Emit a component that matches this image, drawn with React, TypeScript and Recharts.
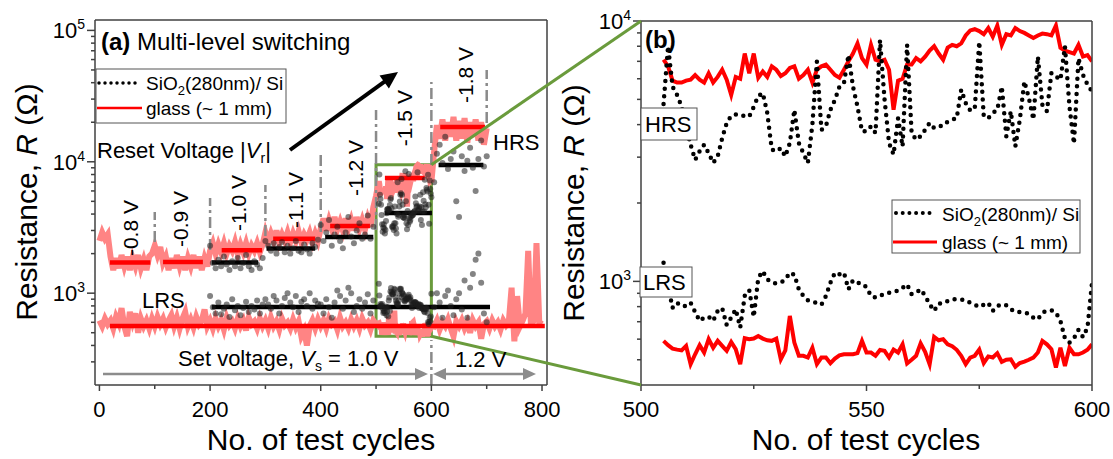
import React from 'react';
import {
  ComposedChart,
  Line,
  Scatter,
  XAxis,
  YAxis,
  ReferenceLine,
  ReferenceArea,
} from 'recharts';

const FONT = '"Liberation Sans", Arial, Helvetica, sans-serif';
const AXIS = '#404040';
const GREEN = '#6a9b3c';
const BAND = '#ff8484';
const RED = '#ff0000';
const DOT = 'rgba(30,30,30,0.55)';
const DIVIDER = '#8a8a8a';

// ---------------- data ----------------
// Detailed window, one value per cycle, cycles 505..600 (Ω)
const glassHrsZoom = [
  7100, 6700, 5900, 5800, 5800, 5900, 5950, 6200, 5950, 5800,
  6300, 5800, 6100, 6500, 5950, 5200, 6100, 6000, 7500, 6300,
  7500, 6050, 6400, 6100, 6700, 6500, 6150, 6300, 6600, 6700,
  6000, 6200, 6500, 5800, 6500, 6700, 6800, 6500, 6200, 6050,
  6500, 7000, 7500, 8200, 7200, 6800, 8100, 7100, 7000, 7100,
  6500, 4560, 5900, 6000, 6800, 6800, 7200, 7000, 7300, 7700,
  8000, 7500, 7100, 7900, 8100, 8000, 8200, 8800, 9200, 9300,
  9150, 8900, 9400, 8700, 9600, 8100, 8900, 8800, 9400, 9150,
  9000, 8800, 8600, 8800, 8950, 8900, 8800, 9600, 7900, 7700,
  7600, 7500, 8100, 7300, 7400, 7000,
];
const sio2HrsZoom = [
  4800, 8000, 5600, 5200, 4700, 3940, 3350, 2930, 3160, 3350,
  3110, 2850, 3020, 3550, 4060, 4330, 4370, 4370, 4300, 4300,
  4680, 5160, 5290, 4430, 3210, 3160, 3250, 3020, 3400, 4560,
  3400, 3110, 2850, 4000, 6990, 3820, 3940, 4560, 4980, 5600,
  5770, 7410, 5600, 4700, 3770, 3770, 3940, 3720, 8460, 5000,
  3400, 3070, 4230, 3300, 8090, 3720, 3500, 3610, 3820, 4060,
  3880, 3940, 3960, 4110, 4180, 4230, 5450, 4840, 4530, 4600,
  8330, 4300, 4230, 4430, 4560, 5600, 3610, 4500, 3300, 4180,
  5860, 5060, 4180, 7300, 4760, 4500, 6310, 6120, 5940, 7980,
  4700, 3380, 7190, 6210, 5700, 5360,
];
const sio2LrsZoom = [
  1180, 960, 792, 828, 804, 804, 828, 763, 705, 726,
  732, 705, 770, 790, 680, 726, 781, 665, 880, 925,
  730, 1030, 1095, 1018, 988, 983, 990, 1015, 1080, 1060,
  932, 880, 846, 835, 826, 814, 878, 988, 1080, 1065,
  1080, 932, 1010, 988, 983, 950, 880, 866, 880, 898,
  905, 909, 923, 945, 974, 893, 905, 932, 880, 816,
  770, 823, 823, 840, 853, 853, 851, 848, 828, 814,
  798, 814, 828, 770, 804, 816, 809, 781, 763, 763,
  759, 752, 726, 715, 759, 770, 775, 759, 705, 604,
  582, 604, 651, 611, 665, 988,
];
const glassLrsZoom = [
  591, 569, 552, 547, 543, 565, 481, 525, 569, 533,
  600, 556, 591, 565, 541, 585, 549, 481, 605, 600,
  603, 617, 603, 594, 591, 603, 502, 543, 737, 582,
  518, 518, 510, 556, 481, 510, 510, 485, 505, 520,
  525, 525, 525, 530, 591, 533, 533, 518, 545, 541,
  510, 547, 533, 573, 484, 500, 518, 578, 536, 480,
  612, 594, 600, 573, 564, 546, 518, 481, 510, 518,
  547, 486, 515, 510, 530, 491, 500, 502, 470, 486,
  492, 500, 510, 533, 591, 573, 549, 467, 556, 473,
  556, 525, 525, 533, 546, 573,
];

// Full run, sampled every 5 cycles
// glass HRS, cycles 0..500
const glassHrsEarly = [
  2500, 2900, 2600, 2800, 1900, 1500, 1850, 1550, 1950, 1600,
  1900, 1500, 1850, 1600, 1950, 1550, 1800, 1500, 1900, 2000,
  2300, 1950, 2250, 1700, 1900, 1500, 1850, 1550, 1950, 1600,
  1900, 1500, 1850, 1600, 1950, 1550, 1900, 1500, 1850, 1600,
  2100, 2400, 2000, 2350, 2050, 2400, 2000, 2300, 2100, 2450,
  2000, 2350, 2050, 2400, 2000, 2300, 2100, 2400, 2050, 2350,
  2900, 2450, 2850, 2500, 3000, 2450, 2800, 2500, 2900, 2450,
  2850, 2500, 2950, 2450, 2800, 2550, 2900, 2450, 2850, 2500,
  3100, 3700, 3000, 3600, 3100, 3800, 3050, 3500, 3000, 3700,
  3100, 3600, 3000, 3800, 3100, 3600, 3050, 3700, 3200, 4500,
  5500,
];
// glass HRS, cycles 605..700
const glassHrsLate = [
  12000, 19000, 15000, 21000, 14500, 20000, 15500, 22000, 14500, 20500,
  15000, 21500, 14000, 20000, 15500, 21000, 14500, 20000, 13500, 18000,
];
// glass LRS, cycles 0..500
const glassLrsEarly = [
  620, 560, 640, 580, 620, 540, 660, 590, 770, 560,
  470, 720, 600, 700, 500, 640, 560, 620, 540, 640,
  560, 660, 580, 640, 550, 620, 680, 560, 650, 540,
  640, 720, 560, 630, 550, 660, 580, 620, 750, 560,
  620, 540, 640, 560, 620, 530, 650, 570, 610, 540,
  640, 560, 620, 520, 650, 580, 610, 540, 640, 560,
  620, 540, 650, 560, 610, 530, 640, 570, 600, 540,
  630, 550, 610, 470, 520, 400, 560, 620, 540, 630,
  560, 620, 540, 640, 580, 610, 530, 650, 560, 600,
  540, 630, 560, 620, 540, 640, 570, 600, 530, 620,
  580,
];
// glass LRS, cycles 605..800
const glassLrsLate = [
  560, 620, 530, 600, 560, 630, 540, 470, 610, 560,
  620, 540, 600, 500, 620, 560, 600, 450, 580, 610,
  540, 620, 560, 600, 530, 620, 570, 610, 1100, 430,
  950, 560, 620, 700, 2100, 560, 620, 2400, 600, 580,
];
// SiO2 HRS, cycles 200..495 and 605..700
const sio2HrsEarly = [
  2300, 1700, 1550, 1800, 1600, 1900, 1650, 1500, 1750, 1600,
  1850, 1550, 1700, 1950, 1600, 1500, 1750, 1650, 1550, 1850,
  2500, 2300, 2100, 2400, 2000, 2250, 2450, 2050, 2300, 2000,
  2200, 2500, 2100, 2050, 2350, 2150, 2000, 2400, 2250, 2550,
  3300, 2500, 2900, 3600, 2300, 2800, 3200, 2500, 2200, 2900,
  3800, 2700, 2400, 3000, 3400, 2600, 2800, 3900, 2600, 3200,
];
const sio2HrsLate = [
  7000, 11500, 13500, 9800, 15500, 8800, 10500, 12000, 5000, 3800,
  11000, 8500, 10200, 12800, 9000, 6000, 10500, 14500, 9200, 11000,
];
// SiO2 LRS, cycles 200..495 and 605..700
const sio2LrsEarly = [
  950, 780, 700, 850, 690, 760, 820, 660, 900, 740,
  800, 680, 770, 860, 720, 800, 750, 880, 700, 820,
  900, 820, 760, 950, 880, 700, 800, 920, 1000, 850,
  780, 950, 720, 860, 900, 800, 1000, 760, 880, 830,
  820, 700, 900, 780, 650, 850, 1050, 950, 760, 880,
  1100, 1000, 720, 800, 900, 760, 850, 980, 700, 880,
];
const sio2LrsLate = [
  780, 1000, 850, 650, 950, 1050, 800, 680, 900, 1000,
  750, 1250, 650, 1100, 1400, 1800, 2000, 1200, 700, 600,
];

// Mean resistance of each reset-voltage block
const glassHrsLevels = [
  { from: 19, to: 92, r: 1710 },
  { from: 115, to: 187, r: 1730 },
  { from: 221, to: 294, r: 2120 },
  { from: 314, to: 390, r: 2600 },
  { from: 417, to: 489, r: 3250 },
  { from: 516, to: 588, r: 7530 },
  { from: 616, to: 697, r: 18400 },
];
const sio2HrsLevels = [
  { from: 203, to: 287, r: 1710 },
  { from: 302, to: 390, r: 2190 },
  { from: 408, to: 495, r: 2680 },
  { from: 516, to: 601, r: 4080 },
  { from: 613, to: 694, r: 9460 },
];
const glassLrsLevel = { from: 19, to: 805, r: 563 };
const sio2LrsLevel = { from: 203, to: 706, r: 786 };

// Block boundaries (cycle, lower and upper end of the marker)
const blockDividers = [
  { x: 100, lo: 2450, hi: 4150 },
  { x: 200, lo: 2130, hi: 5300 },
  { x: 300, lo: 2720, hi: 6670 },
  { x: 400, lo: 2920, hi: 11300 },
  { x: 500, lo: 3030, hi: 24800 },
  { x: 600, lo: 9460, hi: 40400 },
  { x: 700, lo: 19700, hi: 50000 },
  { x: 600, lo: 200, hi: 440 },
];

const resetVoltageLabels = [
  { x: 57, y: 3130, label: '-0.8 V' },
  { x: 147, y: 3670, label: '-0.9 V' },
  { x: 252, y: 4850, label: '-1.0 V' },
  { x: 354, y: 5120, label: '-1.1 V' },
  { x: 462, y: 8970, label: '-1.2 V' },
  { x: 551, y: 21500, label: '-1.5 V' },
  { x: 661, y: 45800, label: '-1.8 V' },
];

const zoomWindow = { x1: 500, x2: 600, y1: 470, y2: 9500 };

const leftXTicks = [0, 100, 200, 300, 400, 500, 600, 700, 800];
const leftXMajor = [0, 200, 400, 600, 800];
const leftYTicks = [
  300, 400, 500, 600, 700, 800, 900,
  1000, 2000, 3000, 4000, 5000, 6000, 7000, 8000, 9000,
  10000, 20000, 30000, 40000, 50000, 60000, 70000, 80000, 90000,
  100000,
];
const rightXTicks = [500, 525, 550, 575, 600];
const rightXMajor = [500, 550, 600];
const rightYTicks = [
  500, 600, 700, 800, 900,
  1000, 2000, 3000, 4000, 5000, 6000, 7000, 8000, 9000,
  10000,
];

// ---------------- helpers ----------------
const pts = (start: number, step: number, vals: number[]) =>
  vals.map((y, i) => ({ x: start + i * step, y }));

const glassHrsLeft = [...pts(0, 5, glassHrsEarly), ...pts(505, 1, glassHrsZoom), ...pts(605, 5, glassHrsLate)];
const glassLrsLeft = [...pts(0, 5, glassLrsEarly), ...pts(505, 1, glassLrsZoom), ...pts(605, 5, glassLrsLate)];
const sio2HrsLeft = [...pts(200, 5, sio2HrsEarly), ...pts(505, 1, sio2HrsZoom), ...pts(605, 5, sio2HrsLate)];
const sio2LrsLeft = [...pts(200, 5, sio2LrsEarly), ...pts(505, 1, sio2LrsZoom), ...pts(605, 5, sio2LrsLate)];

const glassHrsRight = pts(505, 1, glassHrsZoom);
const glassLrsRight = pts(505, 1, glassLrsZoom);
const sio2HrsRight = pts(505, 1, sio2HrsZoom);
const sio2LrsRight = pts(505, 1, sio2LrsZoom);

// Layout of the left plot area (must agree with the chart margins below)
const LEFT = { x0: 95, x1: 547, y0: 20, y1: 385, dMin: -8, dMax: 809, rMin: 200, rMax: 120000 };
const RIGHT_PLOT = { x0: 641, y0: 21, y1: 385 };
const lx = (v: number) => LEFT.x0 + ((v - LEFT.dMin) / (LEFT.dMax - LEFT.dMin)) * (LEFT.x1 - LEFT.x0);
const ly = (v: number) =>
  LEFT.y0 +
  ((Math.log10(LEFT.rMax) - Math.log10(v)) / (Math.log10(LEFT.rMax) - Math.log10(LEFT.rMin))) *
    (LEFT.y1 - LEFT.y0);

const axisStyle = { stroke: AXIS, strokeWidth: 1.5 };

const YLogTick = (props: any) => {
  const { x, y, payload } = props;
  const v = payload.value as number;
  const lg = Math.log10(v);
  const e = Math.round(lg);
  const major = Math.abs(lg - e) < 1e-9;
  return (
    <g>
      <line x1={x} x2={x - (major ? 8 : 4)} y1={y} y2={y} stroke={AXIS} strokeWidth={1.5} />
      {major && (
        <text x={x - 10} y={y + 8} textAnchor="end" fontFamily={FONT} fontSize={22} fill="#000">
          10<tspan dy={-9} fontSize={14}>{e}</tspan>
        </text>
      )}
    </g>
  );
};

const makeXTick = (majors: number[]) => (props: any) => {
  const { x, y, payload } = props;
  const major = majors.includes(payload.value);
  return (
    <g>
      <line x1={x} x2={x} y1={y} y2={y + (major ? 6 : 4)} stroke={AXIS} strokeWidth={1.5} />
      {major && (
        <text x={x} y={y + 32} textAnchor="middle" fontFamily={FONT} fontSize={22} fill="#000">
          {payload.value}
        </text>
      )}
    </g>
  );
};

const VoltageLabel = (p: any) => (
  <text
    x={p.cx}
    y={p.cy}
    transform={`rotate(-90 ${p.cx} ${p.cy})`}
    textAnchor="middle"
    dominantBaseline="central"
    fontFamily={FONT}
    fontSize={21}
    fill="#000"
  >
    {p.payload.label}
  </text>
);

const SmallDot = (p: any) => <circle cx={p.cx} cy={p.cy} r={3} fill={DOT} />;

function Arrow(props: {
  x1: number; y1: number; x2: number; y2: number;
  color: string; width: number; head: number; half: number; both?: boolean;
}) {
  const { x1, y1, x2, y2, color, width, head, half, both } = props;
  const len = Math.hypot(x2 - x1, y2 - y1);
  const ux = (x2 - x1) / len;
  const uy = (y2 - y1) / len;
  const px = -uy;
  const py = ux;
  const tri = (tx: number, ty: number, dx: number, dy: number) => {
    const bx = tx - dx * head;
    const by = ty - dy * head;
    return `${tx},${ty} ${bx + px * half},${by + py * half} ${bx - px * half},${by - py * half}`;
  };
  const sx = both ? x1 + ux * head * 0.8 : x1;
  const sy = both ? y1 + uy * head * 0.8 : y1;
  return (
    <g>
      <line x1={sx} y1={sy} x2={x2 - ux * head * 0.8} y2={y2 - uy * head * 0.8} stroke={color} strokeWidth={width} />
      <polygon points={tri(x2, y2, ux, uy)} fill={color} />
      {both && <polygon points={tri(x1, y1, -ux, -uy)} fill={color} />}
    </g>
  );
}

const SiO2Text = ({ x, y }: { x: number; y: number }) => (
  <text x={x} y={y} fontSize={19} fill="#000">
    SiO<tspan dy={5} fontSize={13}>2</tspan>
    <tspan dy={-5}>(280nm)/ Si</tspan>
  </text>
);

export default function App() {
  return (
    <div
      style={{
        position: 'absolute',
        left: 0,
        top: 0,
        width: 1113,
        height: 459,
        background: '#fff',
        fontFamily: FONT,
        overflow: 'hidden',
      }}
    >
      {/* (a) full switching run */}
      <div style={{ position: 'absolute', left: 0, top: 0 }}>
        <ComposedChart width={575} height={459} margin={{ top: 19, right: 27, bottom: 73, left: 0 }}>
          <XAxis
            dataKey="x"
            type="number"
            domain={[LEFT.dMin, LEFT.dMax]}
            ticks={leftXTicks}
            interval={0}
            allowDataOverflow
            height={1}
            tickLine={false}
            tickSize={0}
            tickMargin={0}
            tick={makeXTick(leftXMajor)}
            axisLine={axisStyle}
          />
          <XAxis xAxisId="top" orientation="top" type="number" domain={[0, 1]} height={1} tick={false} tickLine={false} axisLine={axisStyle} />
          <YAxis
            dataKey="y"
            type="number"
            scale="log"
            domain={[LEFT.rMin, LEFT.rMax]}
            ticks={leftYTicks}
            interval={0}
            allowDataOverflow
            width={95}
            tickLine={false}
            tickSize={0}
            tickMargin={0}
            tick={YLogTick}
            axisLine={axisStyle}
          />
          <YAxis yAxisId="right" orientation="right" type="number" domain={[0, 1]} width={1} tick={false} tickLine={false} axisLine={axisStyle} />

          <Line data={glassLrsLeft} dataKey="y" type="linear" stroke={BAND} strokeWidth={6} dot={false} activeDot={false} isAnimationActive={false} />
          <Line data={glassHrsLeft} dataKey="y" type="linear" stroke={BAND} strokeWidth={6} dot={false} activeDot={false} isAnimationActive={false} />
          <Scatter data={sio2LrsLeft} dataKey="y" shape={SmallDot} isAnimationActive={false} />
          <Scatter data={sio2HrsLeft} dataKey="y" shape={SmallDot} isAnimationActive={false} />

          {blockDividers.map((d, i) => (
            <ReferenceLine
              key={`div-${i}`}
              segment={[{ x: d.x, y: d.lo }, { x: d.x, y: d.hi }]}
              stroke={DIVIDER}
              strokeWidth={2.5}
              strokeDasharray="11 4 3 4"
            />
          ))}
          {glassHrsLevels.map((s, i) => (
            <ReferenceLine key={`gh-${i}`} segment={[{ x: s.from, y: s.r }, { x: s.to, y: s.r }]} stroke={RED} strokeWidth={4.5} />
          ))}
          {sio2HrsLevels.map((s, i) => (
            <ReferenceLine key={`sh-${i}`} segment={[{ x: s.from, y: s.r }, { x: s.to, y: s.r }]} stroke="#000" strokeWidth={4.5} />
          ))}
          <ReferenceLine segment={[{ x: sio2LrsLevel.from, y: sio2LrsLevel.r }, { x: sio2LrsLevel.to, y: sio2LrsLevel.r }]} stroke="#000" strokeWidth={4.5} />
          <ReferenceLine segment={[{ x: glassLrsLevel.from, y: glassLrsLevel.r }, { x: glassLrsLevel.to, y: glassLrsLevel.r }]} stroke={RED} strokeWidth={4.5} />

          <ReferenceArea
            x1={zoomWindow.x1}
            x2={zoomWindow.x2}
            y1={zoomWindow.y1}
            y2={zoomWindow.y2}
            fill="none"
            fillOpacity={0}
            stroke={GREEN}
            strokeWidth={3}
          />
          <Scatter data={resetVoltageLabels} dataKey="y" shape={VoltageLabel} isAnimationActive={false} />
        </ComposedChart>
      </div>

      {/* (b) detail of cycles 500-600 */}
      <div style={{ position: 'absolute', left: 555, top: 0 }}>
        <ComposedChart width={558} height={459} margin={{ top: 20, right: 20, bottom: 73, left: 0 }}>
          <XAxis
            dataKey="x"
            type="number"
            domain={[500, 600]}
            ticks={rightXTicks}
            interval={0}
            allowDataOverflow
            height={1}
            tickLine={false}
            tickSize={0}
            tickMargin={0}
            tick={makeXTick(rightXMajor)}
            axisLine={axisStyle}
          />
          <XAxis xAxisId="top" orientation="top" type="number" domain={[0, 1]} height={1} tick={false} tickLine={false} axisLine={axisStyle} />
          <YAxis
            dataKey="y"
            type="number"
            scale="log"
            domain={[400, 10000]}
            ticks={rightYTicks}
            interval={0}
            allowDataOverflow
            width={86}
            tickLine={false}
            tickSize={0}
            tickMargin={0}
            tick={YLogTick}
            axisLine={axisStyle}
          />
          <YAxis yAxisId="right" orientation="right" type="number" domain={[0, 1]} width={1} tick={false} tickLine={false} axisLine={axisStyle} />

          <Line data={glassHrsRight} dataKey="y" type="linear" stroke={RED} strokeWidth={4} dot={false} activeDot={false} isAnimationActive={false} />
          <Line data={glassLrsRight} dataKey="y" type="linear" stroke={RED} strokeWidth={4} dot={false} activeDot={false} isAnimationActive={false} />
          <Line data={sio2HrsRight} dataKey="y" type="linear" stroke="#000" strokeWidth={4.5} strokeDasharray="0 7.7" strokeLinecap="round" dot={false} activeDot={false} isAnimationActive={false} />
          <Line data={sio2LrsRight} dataKey="y" type="linear" stroke="#000" strokeWidth={4.5} strokeDasharray="0 7.7" strokeLinecap="round" dot={false} activeDot={false} isAnimationActive={false} />
        </ComposedChart>
      </div>

      {/* annotations */}
      <svg
        width={1113}
        height={459}
        style={{ position: 'absolute', left: 0, top: 0, pointerEvents: 'none' }}
        fontFamily={FONT}
      >
        {/* zoom connectors */}
        <line x1={lx(zoomWindow.x2)} y1={ly(zoomWindow.y2)} x2={RIGHT_PLOT.x0} y2={RIGHT_PLOT.y0} stroke={GREEN} strokeWidth={3} />
        <line x1={lx(zoomWindow.x2)} y1={ly(zoomWindow.y1)} x2={RIGHT_PLOT.x0} y2={RIGHT_PLOT.y1} stroke={GREEN} strokeWidth={3} />

        {/* panel (a) */}
        <text x={101} y={50} fontSize={24} fill="#000">
          <tspan fontWeight="bold">(a)</tspan> Multi-level switching
        </text>
        <rect x={96} y={69} width={190} height={54} fill="#fff" stroke="#555" strokeWidth={1} />
        <line x1={99} x2={141} y1={83} y2={83} stroke="#000" strokeWidth={3.5} strokeDasharray="0 6" strokeLinecap="round" />
        <SiO2Text x={146} y={90} />
        <line x1={97} x2={142} y1={108} y2={108} stroke={RED} strokeWidth={2.5} />
        <text x={146} y={115} fontSize={19} fill="#000">glass (~ 1 mm)</text>

        <text x={97} y={158} fontSize={22} fill="#000">
          Reset Voltage |<tspan fontStyle="italic">V</tspan>
          <tspan dy={5} fontSize={14}>r</tspan>
          <tspan dy={-5}>|</tspan>
        </text>
        <Arrow x1={290} y1={150} x2={398} y2={72} color="#000" width={4} head={17} half={8} />

        <text x={493} y={150} fontSize={22} fill="#000">HRS</text>
        <text x={142} y={308} fontSize={22} fill="#000">LRS</text>

        <text x={178} y={366} fontSize={22} fill="#000">
          Set voltage, <tspan fontStyle="italic">V</tspan>
          <tspan dy={5} fontSize={14}>s</tspan>
          <tspan dy={-5}>{' = 1.0 V'}</tspan>
        </text>
        <text x={455} y={367} fontSize={22} fill="#000">1.2 V</text>
        <Arrow x1={103} y1={374} x2={428} y2={374} color="#8c8c8c" width={2.5} head={13} half={6} />
        <Arrow x1={433} y1={374} x2={536} y2={374} color="#8c8c8c" width={2.5} head={13} half={6} both />

        <text x={37} y={202} transform="rotate(-90 37 202)" textAnchor="middle" fontSize={30} fill="#000">
          Resistance, <tspan fontStyle="italic">R</tspan> (Ω)
        </text>
        <text x={321} y={450} textAnchor="middle" fontSize={30} fill="#000">No. of test cycles</text>

        {/* panel (b) */}
        <text x={645} y={48} fontSize={24} fontWeight="bold" fill="#000">(b)</text>
        <rect x={641} y={108} width={56} height={32} fill="#fff" stroke="#555" strokeWidth={1} />
        <text x={645} y={132} fontSize={22} fill="#000">HRS</text>
        <rect x={640} y={267} width={52} height={30} fill="#fff" stroke="#555" strokeWidth={1} />
        <text x={643} y={290} fontSize={22} fill="#000">LRS</text>

        <rect x={892} y={200} width={188} height={53} fill="#fff" stroke="#555" strokeWidth={1} />
        <line x1={896} x2={936} y1={213} y2={213} stroke="#000" strokeWidth={4} strokeDasharray="0 6.7" strokeLinecap="round" />
        <SiO2Text x={942} y={221} />
        <line x1={893} x2={937} y1={242} y2={242} stroke={RED} strokeWidth={3} />
        <text x={942} y={249} fontSize={19} fill="#000">glass (~ 1 mm)</text>

        <text x={584} y={203} transform="rotate(-90 584 203)" textAnchor="middle" fontSize={30} fill="#000">
          Resistance, <tspan fontStyle="italic">R</tspan> (Ω)
        </text>
        <text x={866} y={450} textAnchor="middle" fontSize={30} fill="#000">No. of test cycles</text>
      </svg>
    </div>
  );
}
